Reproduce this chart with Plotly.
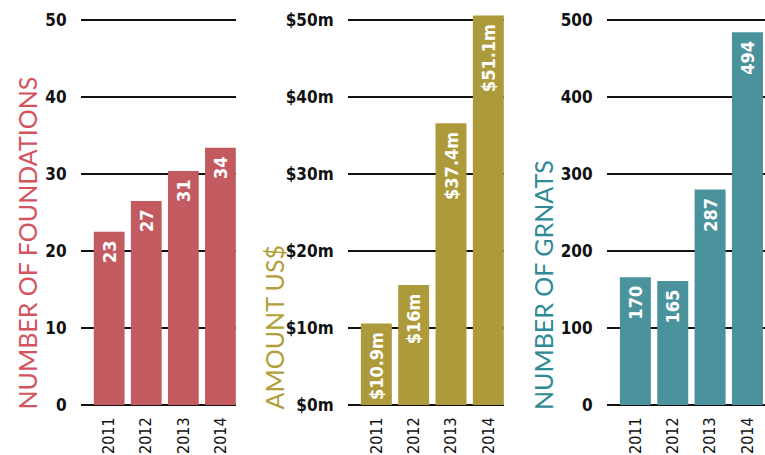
import plotly.graph_objects as go

years = ["2011", "2012", "2013", "2014"]

foundations = [22.5, 26.5, 30.4, 33.4]
foundation_labels = ["23", "27", "31", "34"]

amount_m = [10.6, 15.6, 36.6, 50.6]
amount_labels = ["$10.9m", "$16m", "$37.4m", "$51.1m"]

grants = [166, 161, 280, 484]
grant_labels = ["170", "165", "287", "494"]

amount_ticks = [0, 10, 20, 30, 40, 50]
amount_ticktext = ["$0m", "$10m", "$20m", "$30m", "$40m", "$50m"]

titles = ["NUMBER OF FOUNDATIONS", "AMOUNT US$", "NUMBER OF GRNATS"]
colors = ["#c25a60", "#ad9a3a", "#4b939c"]
title_colors = ["#d4545e", "#b19f3c", "#2e8a94"]

W, H = 765, 455
COND = "DejaVu Sans Condensed, Liberation Sans Narrow, sans-serif"
THIN = "Lato, Open Sans, sans-serif"

fig = go.Figure()

series = [
    (foundations, foundation_labels),
    (amount_m, amount_labels),
    (grants, grant_labels),
]
xdomains = [(81, 236), (348, 504), (607, 765)]
xranges = [(-0.76, 3.42), (-0.76, 3.42), (-0.76, 3.47)]
yranges = [(0, 52.6), (0, 52.6), (0, 526)]
title_x = [26, 273, 543]

for i, (vals, labs) in enumerate(series):
    n = "" if i == 0 else str(i + 1)
    fig.add_trace(go.Bar(
        x=years, y=vals, text=[t + "\u00a0" for t in labs],
        xaxis="x" + n, yaxis="y" + n,
        marker=dict(color=colors[i], line=dict(width=0)),
        width=0.83,
        textposition="inside", insidetextanchor="end", textangle=-90,
        constraintext="none",
        textfont=dict(color="white", family=COND, size=18, weight="bold"),
        showlegend=False, hoverinfo="skip",
    ))
    xa = dict(
        domain=[xdomains[i][0] / W, xdomains[i][1] / W],
        anchor="y" + n, type="category", range=list(xranges[i]),
        showgrid=False, showline=False, zeroline=False, automargin=False,
        tickangle=-90, ticks="outside", ticklen=5, tickcolor="rgba(0,0,0,0)",
        tickfont=dict(family=COND, size=16, color="#111"),
        fixedrange=True,
    )
    ya = dict(
        domain=[50 / H, 1], anchor="x" + n, range=list(yranges[i]),
        showgrid=True, gridcolor="#111", gridwidth=1.5,
        zeroline=True, zerolinecolor="#111", zerolinewidth=1.5,
        showline=False, automargin=False,
        ticks="outside", ticklen=10, tickcolor="rgba(0,0,0,0)",
        tickfont=dict(family=COND, size=17, color="#111", weight="bold"),
        fixedrange=True,
    )
    if i == 1:
        ya.update(tickmode="array", tickvals=amount_ticks, ticktext=amount_ticktext)
    elif i == 0:
        ya.update(tick0=0, dtick=10)
    else:
        ya.update(tick0=0, dtick=100)
    fig.update_layout({"xaxis" + n: xa, "yaxis" + n: ya})
    fig.add_annotation(
        x=title_x[i] / W, y=(H - 412) / H, xref="paper", yref="paper",
        text=titles[i], textangle=-90, showarrow=False,
        xanchor="center", yanchor="bottom",
        font=dict(family=THIN, size=25, color=title_colors[i], weight=400),
    )

fig.update_layout(
    width=W, height=H, margin=dict(l=0, r=0, t=0, b=0),
    paper_bgcolor="white", plot_bgcolor="white",
    bargap=0.17,
)

fig.write_html("out.html", config={"displayModeBar": False})
